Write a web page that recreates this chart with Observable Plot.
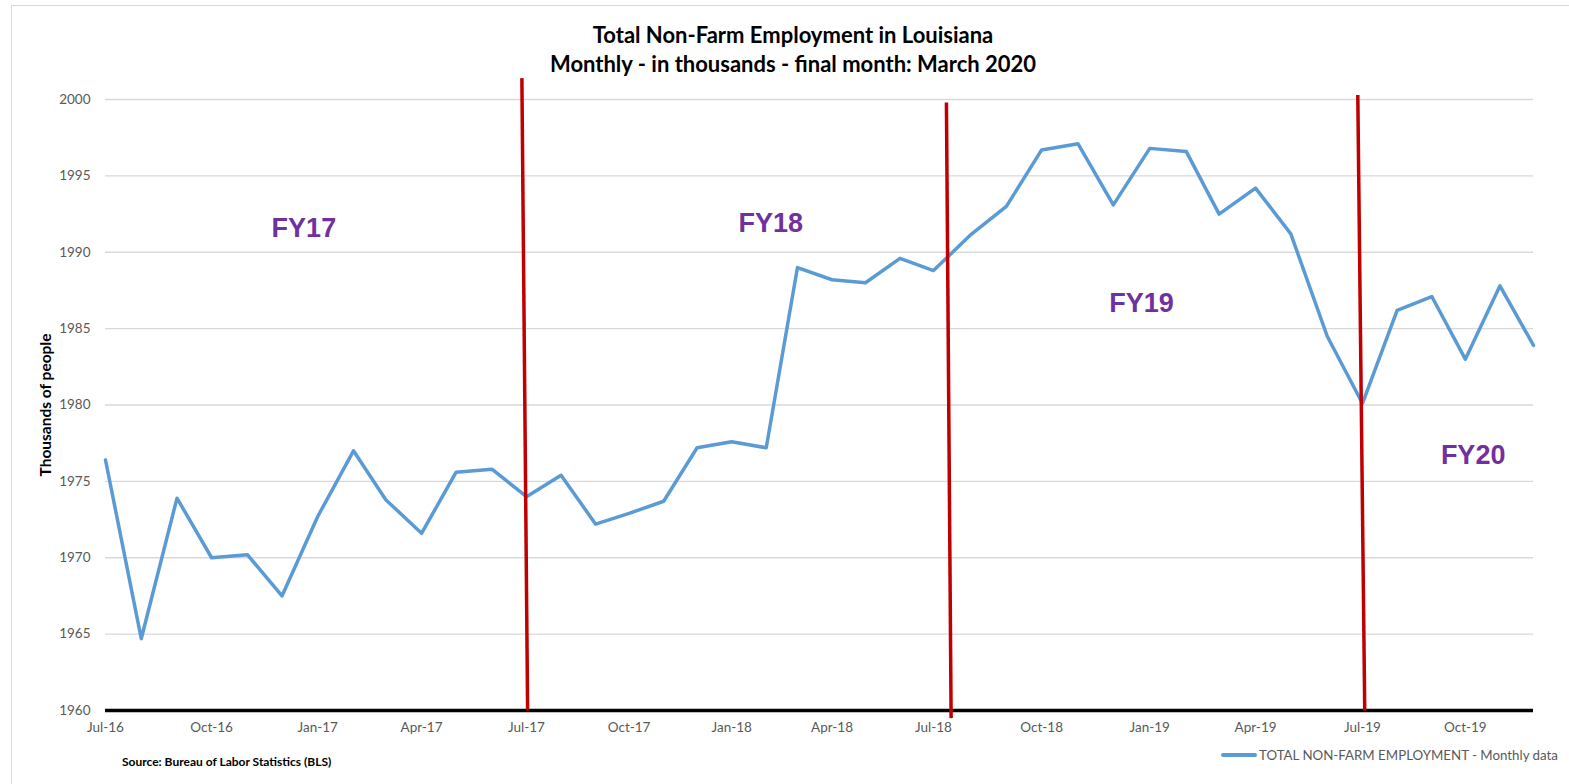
<!DOCTYPE html>
<html>
<head>
<meta charset="utf-8">
<script src="https://cdn.jsdelivr.net/npm/d3@7"></script>
<script src="https://cdn.jsdelivr.net/npm/@observablehq/plot@0.6"></script>
<style>
  body { margin: 0; background: #fff; }
  #wrap { position: relative; width: 1569px; height: 784px; overflow: hidden; font-family: Lato, "Open Sans", sans-serif; background: #fff; }
  .frame { position: absolute; left: 11px; top: 5px; width: 1700px; height: 900px; border: 1px solid #d9d9d9; box-sizing: border-box; }
  #chart { position: absolute; left: 0; top: 0; }
  .title { position: absolute; left: 443px; width: 700px; text-align: center; font-weight: bold; font-size: 22px; color: #000; line-height: 26px; white-space: nowrap; }
  .ylabel { position: absolute; left: 45px; top: 405px; transform: translate(-50%, -50%) rotate(-90deg); font-weight: bold; font-size: 15.5px; color: #000; white-space: nowrap; }
  .source { position: absolute; left: 122px; top: 754px; font-weight: bold; font-size: 12px; color: #000; white-space: nowrap; }
  .legend { position: absolute; left: 1221px; top: 747px; font-size: 13.3px; color: #595959; white-space: nowrap; display: flex; align-items: center; }
  .legend .swatch { display: inline-block; width: 36px; height: 3.5px; background: #5B9BD5; margin-right: 2px; border-radius: 2px; }
</style>
</head>
<body>
<div id="wrap">
  <div class="frame"></div>
  <div id="chart"></div>
  <div class="title" style="top:22px">Total Non-Farm Employment in Louisiana</div>
  <div class="title" style="top:51px">Monthly - in thousands - final month: March 2020</div>
  <div class="ylabel">Thousands of people</div>
  <div class="source">Source: Bureau of Labor Statistics (BLS)</div>
  <div class="legend"><span class="swatch"></span><span>TOTAL NON-FARM EMPLOYMENT - Monthly data</span></div>
</div>
<script>
// Monthly employment (thousands), Jul-16 .. Dec-19 (visible portion)
const employment = [
  1976.4, 1964.7, 1973.9, 1970.0, 1970.2, 1967.5,
  1972.7, 1977.0, 1973.8, 1971.6, 1975.6, 1975.8,
  1974.0, 1975.4, 1972.2, 1972.9, 1973.7, 1977.2,
  1977.6, 1977.2, 1989.0, 1988.2, 1988.0, 1989.6,
  1988.8, 1991.1, 1993.0, 1996.7, 1997.1, 1993.1,
  1996.8, 1996.6, 1992.5, 1994.2, 1991.2, 1984.5,
  1980.1, 1986.2, 1987.1, 1983.0, 1987.8, 1983.9
];
const startMonth = new Date("2016-07-01");
const months = d3.utcMonth.range(startMonth, d3.utcMonth.offset(startMonth, employment.length));
const yTicks = [1960, 1965, 1970, 1975, 1980, 1985, 1990, 1995, 2000];
const xTicks = months.filter((d, i) => i % 3 === 0);
// Anchor months of the (slightly uneven) horizontal axis
const xAnchors = ["2016-07-01", "2017-07-01", "2018-07-01", "2019-07-01", "2019-12-01"];

// Fiscal-year divider lines (hand-drawn in original)
const fyLineTopDate = ["2017-06-27", "2018-07-12", "2019-06-27"];
const fyLineBottomDate = ["2017-07-02", "2018-07-16", "2019-07-03"];
const fyLineTop = [2001.4, 1999.8, 2000.3];
const fyLineBottom = [1960, 1959.5, 1960];

// Fiscal-year labels
const fyLabels = ["FY17", "FY18", "FY19", "FY20"];
const fyLabelDate = ["2016-12-20", "2018-02-05", "2018-12-25", "2019-10-08"];
const fyLabelValue = [1991.55, 1991.9, 1986.65, 1976.7];

const data = employment.map((v, i) => ({date: months[i], value: v}));
const fyLines = fyLineTop.map((t, i) => ({
  x1: new Date(fyLineTopDate[i]), y1: t,
  x2: new Date(fyLineBottomDate[i]), y2: fyLineBottom[i]
}));
const labels = fyLabels.map((l, i) => ({text: l, date: new Date(fyLabelDate[i]), value: fyLabelValue[i]}));

const chart = Plot.plot({
  width: 1569,
  height: 784,
  marginTop: 99,
  marginBottom: 74,
  marginLeft: 105,
  marginRight: 36,
  style: {fontFamily: "Lato, 'Open Sans', sans-serif", fontSize: "13.5px", color: "#595959", background: "transparent", overflow: "visible"},
  x: {type: "utc", domain: xAnchors.map(d => new Date(d)), range: [105, 526, 933, 1362, 1533], ticks: xTicks, tickFormat: d3.utcFormat("%b-%y"), tickSize: 0, tickPadding: 12, label: null},
  y: {domain: [1960, 2000], ticks: yTicks, tickFormat: "d", tickSize: 0, tickPadding: 15, label: null},
  marks: [
    Plot.gridY(yTicks, {stroke: "#d9d9d9", strokeOpacity: 1, strokeWidth: 1.3}),
    Plot.ruleY([1960], {stroke: "#000", strokeWidth: 3.5}),
    Plot.line(data, {x: "date", y: "value", stroke: "#5B9BD5", strokeWidth: 3.5, strokeLinejoin: "round"}),
    Plot.link(fyLines, {x1: "x1", y1: "y1", x2: "x2", y2: "y2", stroke: "#C00000", strokeWidth: 3.5}),
    Plot.text(labels, {x: "date", y: "value", text: "text", fill: "#7030A0", fontSize: 27, fontWeight: "bold", fontFamily: "'Liberation Sans', Arial, sans-serif", textAnchor: "middle", lineAnchor: "middle"})
  ]
});
document.getElementById("chart").appendChild(chart);
</script>
</body>
</html>
